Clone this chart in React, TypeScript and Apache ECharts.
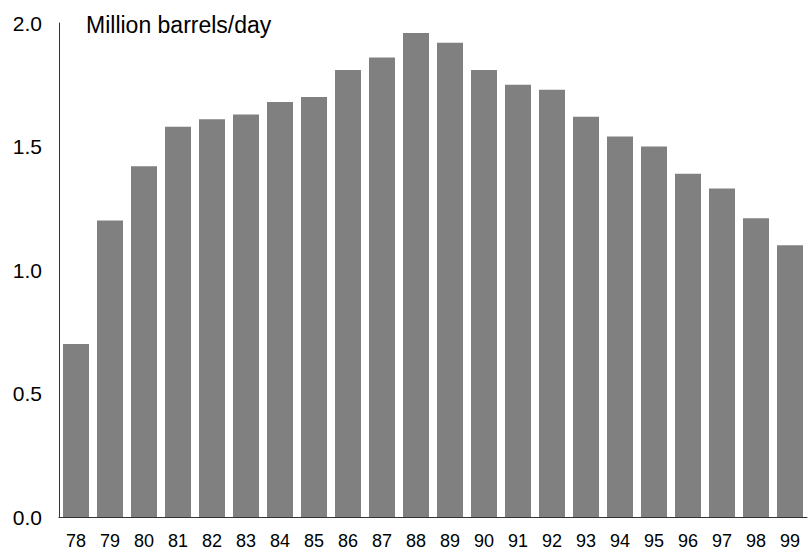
import React, { useEffect, useRef } from "react";
import * as echarts from "echarts";

const years = ["78","79","80","81","82","83","84","85","86","87","88","89","90","91","92","93","94","95","96","97","98","99"];
const production = [0.70,1.20,1.42,1.58,1.61,1.63,1.68,1.70,1.81,1.86,1.96,1.92,1.81,1.75,1.73,1.62,1.54,1.50,1.39,1.33,1.21,1.10];
const yTicks = { min: 0, max: 2, interval: 0.5 };
const unitLabel = "Million barrels/day";

export default function App() {
  const ref = useRef<HTMLDivElement>(null);
  useEffect(() => {
    if (!ref.current) return;
    const chart = echarts.init(ref.current, null, { renderer: "svg" });
    const font = "'Liberation Sans', Arial, Helvetica, sans-serif";
    chart.setOption({
      animation: false,
      backgroundColor: "#ffffff",
      textStyle: { fontFamily: font },
      title: {
        text: unitLabel,
        left: 81,
        top: 8,
        textStyle: { fontFamily: font, fontSize: 23, fontWeight: "normal", color: "#000" },
      },
      grid: { left: 59, right: 2, top: 23, bottom: 33 },
      xAxis: {
        type: "category",
        data: years,
        axisLine: { show: true, lineStyle: { color: "#333", width: 1 } },
        axisTick: { show: false },
        axisLabel: { color: "#000", fontSize: 18, fontFamily: font, margin: 15, interval: 0 },
        splitLine: { show: false },
      },
      yAxis: {
        type: "value",
        min: yTicks.min,
        max: yTicks.max,
        interval: yTicks.interval,
        axisLine: { show: true, lineStyle: { color: "#333", width: 1 } },
        axisTick: { show: false },
        splitLine: { show: false },
        axisLabel: {
          color: "#000",
          fontSize: 21,
          fontFamily: font,
          margin: 17,
          formatter: (v: number) => v.toFixed(1),
        },
      },
      series: [
        {
          type: "bar",
          data: production,
          barWidth: 26,
          itemStyle: { color: "#808080" },
        },
      ],
    });
    return () => chart.dispose();
  }, []);
  return (
    <div
      ref={ref}
      style={{ position: "fixed", left: 0, top: 0, width: 809, height: 550, background: "#fff" }}
    />
  );
}
